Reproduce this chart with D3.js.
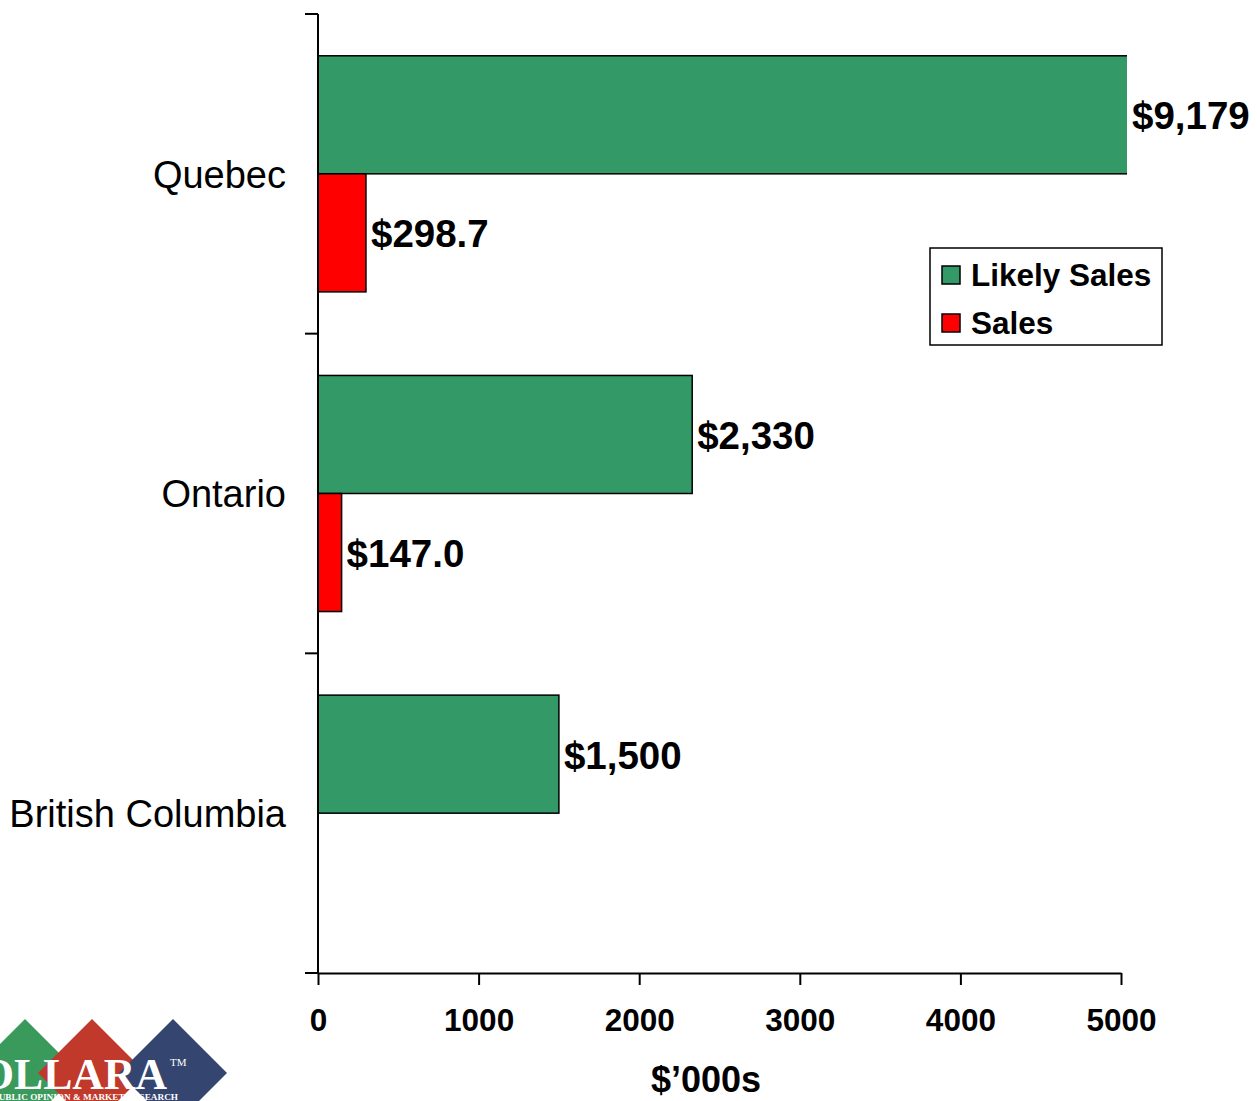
<!DOCTYPE html>
<html><head><meta charset="utf-8">
<script src="https://cdn.jsdelivr.net/npm/d3@7"></script>
<style>html,body{margin:0;padding:0;background:#fff;} svg{display:block;font-family:"Liberation Sans",Arial,sans-serif;}</style>
</head><body>
<svg id="chart" width="1257" height="1101"></svg>
<script>
const categories = ["Quebec", "Ontario", "British Columbia"];
const seriesNames = ["Likely Sales", "Sales"];
const likelySales = [9179, 2330, 1500];
const sales = [298.7, 147.0, null];
const likelyLabels = ["$9,179", "$2,330", "$1,500"];
const salesLabels = ["$298.7", "$147.0", ""];
const xTicks = [0, 1000, 2000, 3000, 4000, 5000];
const xTitle = "$\u2019000s";
const colors = {"Likely Sales": "#339966", "Sales": "#ff0000"};

const svg = d3.select("#chart");
const x = d3.scaleLinear().domain([0, 5000]).range([318, 1121]);
const y = d3.scaleBand().domain(categories).range([14, 973]).paddingInner(0).paddingOuter(0);
const yInner = d3.scaleBand().domain(seriesNames).range([0, y.bandwidth()]).paddingInner(0).paddingOuter(0.354);

const rows = categories.map((c, i) => ({cat: c, vals: [
  {s: "Likely Sales", v: likelySales[i], label: likelyLabels[i]},
  {s: "Sales", v: sales[i], label: salesLabels[i]}
]}));

svg.append("defs").append("clipPath").attr("id", "plotclip")
  .append("rect").attr("x", x(0)).attr("y", 0).attr("width", x(5000) - x(0) + 6).attr("height", 1000);

const plot = svg.append("g").attr("clip-path", "url(#plotclip)");
const groups = plot.selectAll("g.cat").data(rows).join("g").attr("class", "cat")
  .attr("transform", d => `translate(0,${y(d.cat)})`);
groups.selectAll("rect").data(d => d.vals.filter(v => v.v != null)).join("rect")
  .attr("x", x(0))
  .attr("y", d => yInner(d.s))
  .attr("width", d => x(d.v) - x(0))
  .attr("height", yInner.bandwidth())
  .attr("fill", d => colors[d.s])
  .attr("stroke", "#000").attr("stroke-width", 1.5);

// value labels
const lab = svg.selectAll("g.lab").data(rows).join("g").attr("class", "lab")
  .attr("transform", d => `translate(0,${y(d.cat)})`);
lab.selectAll("text").data(d => d.vals.filter(v => v.v != null)).join("text")
  .attr("x", d => Math.min(x(d.v), x(5000) + 6) + 5)
  .attr("y", d => yInner(d.s) + yInner.bandwidth() / 2)
  .attr("dy", "0.38em")
  .attr("font-size", 38.5).attr("font-weight", "bold").attr("fill", "#000")
  .text(d => d.label);

// y axis line and ticks at band boundaries
svg.append("line").attr("x1", x(0)).attr("x2", x(0)).attr("y1", y.range()[0]).attr("y2", y.range()[1])
  .attr("stroke", "#000").attr("stroke-width", 2);
const bounds = categories.map(c => y(c)).concat([y.range()[1]]);
svg.selectAll("line.ytick").data(bounds).join("line").attr("class", "ytick")
  .attr("x1", x(0) - 13).attr("x2", x(0)).attr("y1", d => d).attr("y2", d => d)
  .attr("stroke", "#000").attr("stroke-width", 2);
svg.selectAll("text.cat").data(categories).join("text").attr("class", "cat")
  .attr("x", 286).attr("y", d => y(d) + y.bandwidth() / 2).attr("dy", "0.36em")
  .attr("text-anchor", "end").attr("font-size", 38).attr("fill", "#000").text(d => d);

// x axis
const xa = svg.append("g").attr("transform", `translate(0,${y.range()[1]})`)
  .call(d3.axisBottom(x).tickValues(xTicks).tickFormat(d3.format("d")).tickSize(12).tickPadding(24).tickSizeOuter(0));
xa.select(".domain").attr("stroke", "#000").attr("stroke-width", 2);
xa.selectAll(".tick line").attr("stroke", "#000").attr("stroke-width", 2);
xa.selectAll(".tick text").attr("font-size", 31.5).attr("font-weight", "bold").attr("fill", "#000")
  .attr("font-family", "Liberation Sans, Arial, sans-serif");
svg.append("text").attr("x", 706).attr("y", 1092).attr("text-anchor", "middle")
  .attr("font-size", 36).attr("font-weight", "bold").attr("fill", "#000").text(xTitle);

// legend
const leg = svg.append("g");
leg.append("rect").attr("x", 930).attr("y", 248).attr("width", 232).attr("height", 97)
  .attr("fill", "#fff").attr("stroke", "#000").attr("stroke-width", 1.5);
seriesNames.forEach((s, i) => {
  leg.append("rect").attr("x", 942).attr("y", 266 + i * 48).attr("width", 18).attr("height", 18)
    .attr("fill", colors[s]).attr("stroke", "#000").attr("stroke-width", 1.5);
  leg.append("text").attr("x", 971).attr("y", 275 + i * 48).attr("dy", "0.36em")
    .attr("font-size", 31.5).attr("font-weight", "bold").attr("fill", "#000").text(s);
});

// logo
const logo = svg.append("g");
const diamonds = [
  {cx: 25, fill: "#3a9a5c"},
  {cx: 92, fill: "#c0392b"},
  {cx: 173, fill: "#34466f"}
];
diamonds.forEach(d => {
  const h = 54, cy = 1073;
  logo.append("polygon")
    .attr("points", `${d.cx},${cy - h} ${d.cx + h},${cy} ${d.cx},${cy + h} ${d.cx - h},${cy}`)
    .attr("fill", d.fill);
});
logo.append("text").attr("x", -20).attr("y", 1089).attr("textLength", 187).attr("lengthAdjust", "spacingAndGlyphs")
  .attr("font-family", "Liberation Serif, serif").attr("font-size", 44).attr("font-weight", "bold").attr("fill", "#fff").text("OLLARA");
logo.append("text").attr("x", 170).attr("y", 1066).attr("font-family", "Liberation Serif, serif")
  .attr("font-size", 11).attr("fill", "#fff").text("TM");
logo.append("text").attr("x", -7).attr("y", 1100).attr("textLength", 185).attr("lengthAdjust", "spacingAndGlyphs")
  .attr("font-family", "Liberation Serif, serif").attr("font-size", 8).attr("font-weight", "bold").attr("fill", "#fff").text("PUBLIC OPINION & MARKET RESEARCH");
</script>
</body></html>
